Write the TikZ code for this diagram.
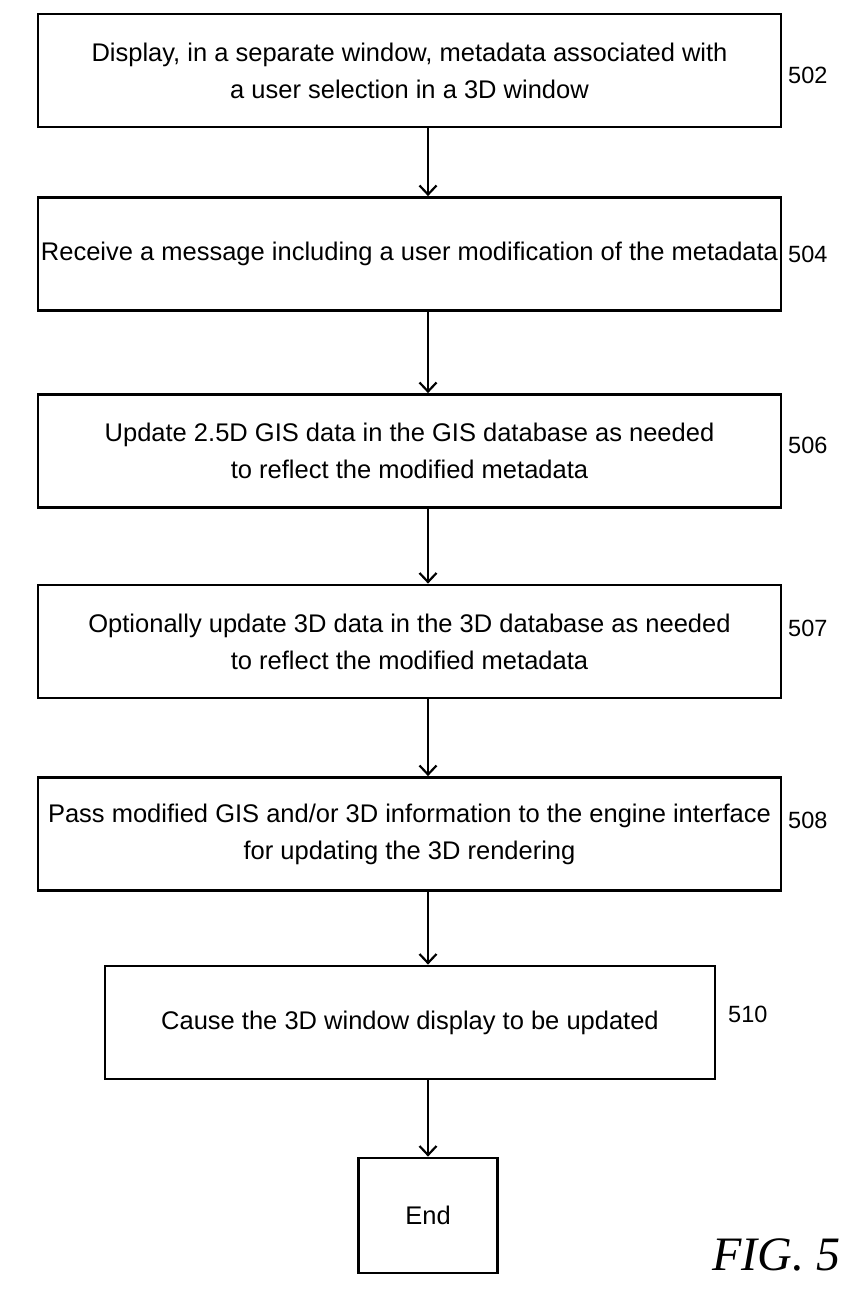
\documentclass[tikz,border=0pt]{standalone}
\usepackage{fontspec}
\setmainfont{Liberation Sans}
\newfontfamily\figfont{Liberation Serif}
\usetikzlibrary{arrows.meta}
\begin{document}
\begin{tikzpicture}[x=1pt,y=-1pt,
  stepbox/.style={draw,line width=2.8pt,rectangle,minimum width=743pt,minimum height=113pt,
    inner sep=0pt,align=center,font=\fontsize{25.5}{37}\selectfont},
  narrowbox/.style={stepbox,minimum width=610pt},
  endbox/.style={stepbox,minimum width=139pt,minimum height=115pt},
  reflabel/.style={font=\fontsize{23.5}{27}\selectfont,anchor=west,inner sep=0pt},
  arr/.style={line width=2pt,-{Straight Barb[length=9pt,width=17pt,line width=2.2pt]}}]
\useasboundingbox (0,0) rectangle (867,1292);
\node[stepbox] (b1) at (409.5,70.5) {Display, in a separate window, metadata associated with\\a user selection in a 3D window};
\node[stepbox] (b2) at (409.5,254) {Receive a message including a user modification of the metadata};
\node[stepbox] (b3) at (409.5,451) {Update 2.5D GIS data in the GIS database as needed\\to reflect the modified metadata};
\node[stepbox] (b4) at (409.5,641.5) {Optionally update 3D data in the 3D database as needed\\to reflect the modified metadata};
\node[stepbox] (b5) at (409.5,834) {Pass modified GIS and/or 3D information to the engine interface\\for updating the 3D rendering};
\node[narrowbox] (b6) at (410,1022.5) {Cause the 3D window display to be updated};
\node[endbox] (e) at (428,1215.5) {End};
\node[reflabel] (l1) at (788,75) {502};
\node[reflabel] (l2) at (788,254) {504};
\node[reflabel] (l3) at (788,445) {506};
\node[reflabel] (l4) at (788,628) {507};
\node[reflabel] (l5) at (788,820) {508};
\node[reflabel] (l6) at (728,1014) {510};
\node[font=\figfont\itshape\fontsize{48}{52}\selectfont,anchor=base west,inner sep=0pt] (fig) at (712,1270) {FIG. 5};
\draw[arr] (b1.south -| e.north) -- (b2.north -| e.north);
\draw[arr] (b2.south -| e.north) -- (b3.north -| e.north);
\draw[arr] (b3.south -| e.north) -- (b4.north -| e.north);
\draw[arr] (b4.south -| e.north) -- (b5.north -| e.north);
\draw[arr] (b5.south -| e.north) -- (b6.north -| e.north);
\draw[arr] (b6.south -| e.north) -- (e.north);
\end{tikzpicture}
\end{document}
